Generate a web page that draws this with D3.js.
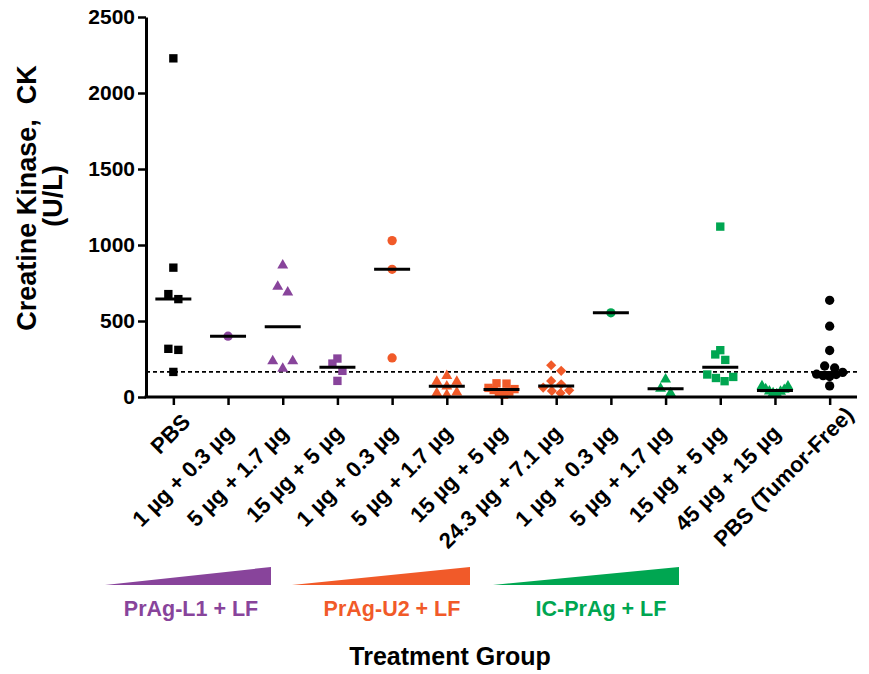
<!DOCTYPE html>
<html>
<head>
<meta charset="utf-8">
<script src="https://cdn.jsdelivr.net/npm/d3@7"></script>
<style>
  body { margin: 0; background: #fff; }
  text { font-family: "Liberation Sans", Arial, sans-serif; font-weight: bold; }
</style>
</head>
<body>
<svg id="chart" width="869" height="674"></svg>
<script>
// ---------------------------------------------------------------- data
// trailing spaces only keep the repeated dose labels distinct in the point scale
var groups = ["PBS", "1 µg + 0.3 µg", "5 µg + 1.7 µg", "15 µg + 5 µg",
  "1 µg + 0.3 µg ", "5 µg + 1.7 µg ", "15 µg + 5 µg ", "24.3 µg + 7.1 µg",
  "1 µg + 0.3 µg  ", "5 µg + 1.7 µg  ", "15 µg + 5 µg  ", "45 µg + 15 µg", "PBS (Tumor-Free)"];
var groupSeries = ["ctrl", "L1", "L1", "L1", "U2", "U2", "U2", "U2", "IC", "IC", "IC", "IC", "ctrl"];
var ckValues = [
  [2228, 851, 677, 644, 317, 310, 165],
  [400],
  [867, 726, 689, 236, 236, 187],
  [253, 220, 172, 106],
  [1029, 840, 257],
  [140, 102, 102, 70, 30, 25, 15],
  [90, 88, 60, 52, 46, 35, 25, 15],
  [209, 172, 106, 84, 62, 44, 40, 26],
  [554],
  [117, 55, 26],
  [1121, 308, 280, 244, 148, 132, 125, 104],
  [72, 70, 52, 48, 38, 36, 25, 20],
  [636, 466, 306, 204, 191, 162, 150, 148, 140, 135, 73]
];
var normalCK = 165;
var yTicks = [0, 500, 1000, 1500, 2000, 2500];
var seriesKeys = ["L1", "U2", "IC"];
var seriesNames = ["PrAg-L1 + LF", "PrAg-U2 + LF", "IC-PrAg + LF"];

// ---------------------------------------------------------------- styles
var colors = { ctrl: "#000000", L1: "#88449B", U2: "#F15A29", IC: "#00A651" };
var markers = ["square", "circle", "triangle", "square", "circle", "triangle", "square",
  "diamond", "circle", "triangle", "square", "triangle", "circle"];
var svg = d3.select("#chart");

var x = d3.scalePoint().domain(groups).range([146, 857]).padding(0.5);
var y = d3.scaleLinear().domain([0, 2500]).range([397, 17]);

// beeswarm: rows of close values are spread symmetrically around the centre
function swarm(vals){
  var pts = vals.map(function(v){ return { v: v, py: y(v) }; }).sort(function(a, b){ return a.v - b.v; });
  var rows = [], cur = null;
  pts.forEach(function(p){
    if(!cur || cur[0].py - p.py > 8){ cur = [p]; rows.push(cur); } else cur.push(p);
  });
  rows.forEach(function(r){
    var n = r.length, s = n > 1 ? Math.min(10, 26/(n-1)) : 0;
    r.forEach(function(p, i){
      var k;
      if(n % 2) k = i === 0 ? 0 : Math.ceil(i/2) * (i % 2 ? -1 : 1);
      else k = (Math.floor(i/2) + 0.5) * (i % 2 ? -1 : 1);
      p.dx = k * s;
    });
  });
  return pts;
}

function symbolPath(type){
  if(type === "circle") return d3.symbol(d3.symbolCircle, 68)();
  if(type === "triangle") return d3.symbol(d3.symbolTriangle, 52)();
  return d3.symbol(d3.symbolSquare, type === "diamond" ? 52 : 70)();
}

// ---------------------------------------------------------------- normal-range line
svg.append("line")
  .attr("x1", 146).attr("x2", 857)
  .attr("y1", y(normalCK)).attr("y2", y(normalCK))
  .style("stroke", "#000").style("stroke-width", 1.6).style("stroke-dasharray", "4,3");

// ---------------------------------------------------------------- points
groups.forEach(function(g, gi){
  var pts = swarm(ckValues[gi]);
  var col = colors[groupSeries[gi]];
  var gx = x(g);
  svg.append("g").selectAll("path").data(pts).enter().append("path")
    .attr("d", symbolPath(markers[gi]))
    .attr("transform", function(d){
      return "translate(" + (gx + d.dx) + "," + d.py + ")" + (markers[gi] === "diamond" ? " rotate(45)" : "");
    })
    .style("fill", col);
});

// median lines
groups.forEach(function(g, gi){
  var m = d3.median(ckValues[gi]);
  svg.append("line")
    .attr("x1", x(g) - 18).attr("x2", x(g) + 18)
    .attr("y1", y(m)).attr("y2", y(m))
    .style("stroke", "#000").style("stroke-width", 3);
});

// ---------------------------------------------------------------- axes
var yAxis = svg.append("g").attr("transform", "translate(146,0)")
  .call(d3.axisLeft(y).tickValues(yTicks).tickFormat(d3.format("d"))
    .tickSize(8).tickSizeOuter(0).tickPadding(3));
yAxis.select(".domain").style("stroke-width", 3);
yAxis.selectAll(".tick line").style("stroke-width", 2.5);
yAxis.selectAll(".tick text").style("font-size", "21px").attr("fill", "#000");

var xAxis = svg.append("g").attr("transform", "translate(0,397)")
  .call(d3.axisBottom(x).tickSize(8).tickSizeOuter(0));
xAxis.select(".domain").attr("d", "M144.5,0H857").style("stroke-width", 3);
xAxis.selectAll(".tick line").style("stroke-width", 2.5);
xAxis.selectAll(".tick text")
  .text(function(d){ return d.trim(); })
  .attr("y", null).attr("dy", null)
  .attr("text-anchor", "end")
  .attr("transform", function(d, i){
    var shift = i === 0 ? 16 : (i === groups.length - 1 ? 26 : 0);
    return "translate(" + (6.5 + shift*0.707) + "," + (37.5 - shift*0.707) + ") rotate(-45)";
  })
  .style("font-size", "22px").attr("fill", "#000");

// y title
var yt = svg.append("g").style("font-size", "27px");
yt.append("text").attr("transform", "translate(36,198) rotate(-90)")
  .attr("text-anchor", "middle").style("white-space", "pre").text("Creatine Kinase,  CK");
yt.append("text").attr("transform", "translate(62,196) rotate(-90)")
  .attr("text-anchor", "middle").text("(U/L)");

// ---------------------------------------------------------------- dose wedges
var wedgeX = [[105, 271], [292, 470], [493, 679]];
var labelX = [191, 392, 601];
seriesKeys.forEach(function(k, i){
  var x0 = wedgeX[i][0], x1 = wedgeX[i][1];
  svg.append("path")
    .attr("d", "M" + x0 + ",585L" + x1 + ",567L" + x1 + ",585Z")
    .style("fill", colors[k]);
  svg.append("text")
    .attr("x", labelX[i]).attr("y", 616)
    .attr("text-anchor", "middle")
    .style("font-size", "21.5px").style("fill", colors[k])
    .text(seriesNames[i]);
});

svg.append("text").attr("x", 450).attr("y", 665).attr("text-anchor", "middle")
  .style("font-size", "25px").text("Treatment Group");
</script>
</body>
</html>
